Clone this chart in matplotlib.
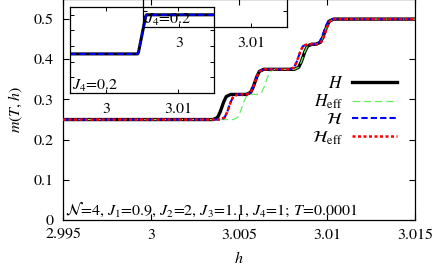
import matplotlib
matplotlib.use("Agg")
import matplotlib.pyplot as plt
from matplotlib.ticker import FixedLocator, FixedFormatter

plt.rcParams['mathtext.fontset'] = 'stix'
plt.rcParams['font.family'] = ['STIXGeneral', 'DejaVu Serif']

# ---- data ----
h_H = [2.995,
       3.00353, 3.00378, 3.00393, 3.00413, 3.00428, 3.00453,
       3.00541, 3.00566, 3.00581, 3.00601, 3.00616, 3.00641,
       3.00814, 3.00839, 3.00854, 3.00874, 3.00889, 3.00914,
       3.00938, 3.00963, 3.00978, 3.00998, 3.01013, 3.01038,
       3.015]
h_Heff = [2.995,
          3.00467, 3.00492, 3.00507, 3.00527, 3.00542, 3.00567,
          3.00603, 3.00628, 3.00643, 3.00663, 3.00678, 3.00703,
          3.00814, 3.00839, 3.00854, 3.00874, 3.00889, 3.00914,
          3.00938, 3.00963, 3.00978, 3.00998, 3.01013, 3.01038,
          3.015]
h_cH = [2.995,
        3.00393, 3.00418, 3.00433, 3.00453, 3.00468, 3.00493,
        3.00541, 3.00566, 3.00581, 3.00601, 3.00616, 3.00641,
        3.00788, 3.00813, 3.00828, 3.00848, 3.00863, 3.00888,
        3.00932, 3.00957, 3.00972, 3.00992, 3.01007, 3.01032,
        3.015]
h_cHeff = [2.995,
           3.00393, 3.00418, 3.00433, 3.00453, 3.00468, 3.00493,
           3.00541, 3.00566, 3.00581, 3.00601, 3.00616, 3.00641,
           3.00788, 3.00813, 3.00828, 3.00848, 3.00863, 3.00888,
           3.00942, 3.00967, 3.00982, 3.01002, 3.01017, 3.01042,
           3.015]
m_steps = [0.25,
           0.25, 0.255, 0.2688, 0.2938, 0.3075, 0.3125,
           0.3125, 0.3175, 0.3313, 0.3563, 0.37, 0.375,
           0.375, 0.38, 0.3938, 0.4188, 0.4325, 0.4375,
           0.4375, 0.4425, 0.4563, 0.4813, 0.495, 0.5,
           0.5]

# inset: J4 = 0.2
h_inset = [2.995, 3.0044, 3.00452, 3.0055, 3.00562, 3.015]
m_inset = [0.25, 0.25, 0.262, 0.488, 0.5, 0.5]

xticks = [2.995, 3.0, 3.005, 3.01, 3.015]
xtick_labels = ['2.995', '3', '3.005', '3.01', '3.015']
yticks = [0, 0.1, 0.2, 0.3, 0.4, 0.5]
ytick_labels = ['0', '0.1', '0.2', '0.3', '0.4', '0.5']
inset_xticks = [3.0, 3.01]
inset_xtick_labels = ['3', '3.01']

W, H = 436, 267
fig = plt.figure(figsize=(W / 100, H / 100), dpi=100)

FS = 11.5

# ---- main axes ----
ax = fig.add_axes([63 / W, 47 / H, 352 / W, 221 / H])
ax.plot(h_H, m_steps, color='black', lw=2.4, label=r'$H$', zorder=2)
ax.plot(h_Heff, m_steps, color='#66ee66', lw=0.9, dashes=(6, 3), label=r'$H_{\rm eff}$', zorder=3)
ax.plot(h_cH, m_steps, color='#0000ff', lw=1.5, dashes=(3, 1.5), label=r'$\mathcal{H}$', zorder=4)
ax.plot(h_cHeff, m_steps, color='#ff0000', lw=1.8, dashes=(1.2, 1.0), label=r'$\mathcal{H}_{\rm eff}$', zorder=5)
ax.set_xlim(2.995, 3.015)
ax.set_ylim(0, 0.55)
ax.xaxis.set_major_locator(FixedLocator(xticks))
ax.xaxis.set_major_formatter(FixedFormatter(xtick_labels))
ax.yaxis.set_major_locator(FixedLocator(yticks))
ax.yaxis.set_major_formatter(FixedFormatter(ytick_labels))
ax.tick_params(direction='in', length=4, width=0.8, top=True, right=True,
               labelsize=FS, pad=6)
ax.tick_params(axis='y', pad=7)
for s in ax.spines.values():
    s.set_linewidth(0.9)
ax.set_xlabel(r'$h$', fontsize=FS, labelpad=6)
ax.set_ylabel(r'$m(T,h)$', fontsize=FS, labelpad=6)

ax.text(2 / 352, 5 / 221,
        r'$\mathcal{N}$=4, $J_1$=0.9, $J_2$=2, $J_3$=1.1, $J_4$=1; $T$=0.0001',
        transform=ax.transAxes, fontsize=FS, ha='left', va='baseline')

leg = ax.legend(loc='upper right', bbox_to_anchor=(397 / W, 1 - 76 / H),
                bbox_transform=fig.transFigure, markerfirst=False, frameon=False,
                fontsize=12.5, handlelength=2.6, labelspacing=0.05,
                borderpad=0, borderaxespad=0, handletextpad=0.5)
for t in leg.get_texts():
    t.set_ha('right')

# ---- insets ----
def make_inset(rect):
    ia = fig.add_axes(rect)
    ia.patch.set_alpha(0)
    ia.plot(h_inset, m_inset, color='black', lw=2.2)
    ia.plot(h_inset, m_inset, color='#0000ff', lw=1.5, dashes=(3, 1.5))
    ia.set_xlim(2.995, 3.015)
    ia.set_ylim(0, 0.55)
    ia.xaxis.set_major_locator(FixedLocator(inset_xticks))
    ia.xaxis.set_major_formatter(FixedFormatter(inset_xtick_labels))
    ia.yaxis.set_major_locator(FixedLocator(yticks))
    ia.tick_params(direction='in', length=3, width=0.7, top=True, right=True,
                   labelsize=FS, pad=7, labelleft=False)
    for s in ia.spines.values():
        s.set_linewidth(0.9)
    ia.text(2 / 144, 3 / 86, r'$J_4$=0.2', transform=ia.transAxes,
            fontsize=FS, ha='left', va='baseline')
    return ia

make_inset([70 / W, 1 - 93 / H, 144 / W, 86 / H])
make_inset([143 / W, 1 - 27 / H, 144 / W, 86 / H])

fig.savefig('out.png', dpi=100)
